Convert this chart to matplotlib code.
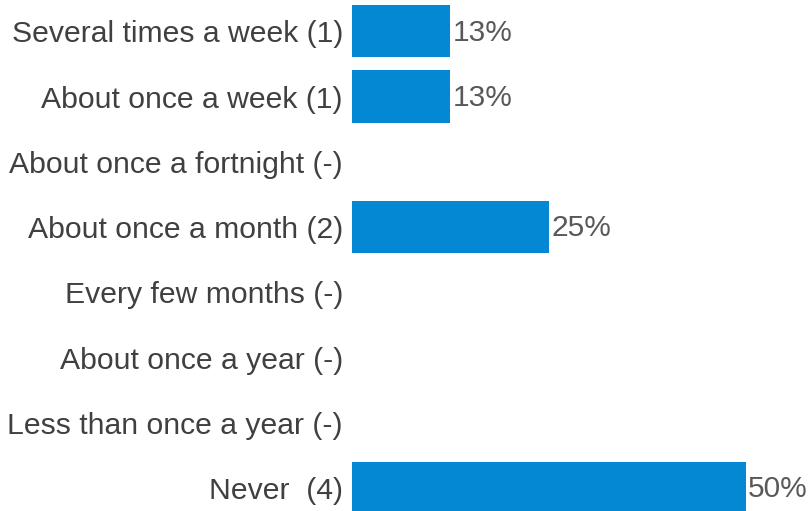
import matplotlib
matplotlib.use("Agg")
from matplotlib import pyplot as plt

categories = [
    "Several times a week (1)",
    "About once a week (1)",
    "About once a fortnight (-)",
    "About once a month (2)",
    "Every few months (-)",
    "About once a year (-)",
    "Less than once a year (-)",
    "Never  (4)",
]
shares = [12.5, 12.5, 0, 25, 0, 0, 0, 50]
share_labels = ["13%", "13%", "", "25%", "", "", "", "50%"]

plt.rcParams["font.family"] = ["Liberation Sans", "DejaVu Sans"]

fig = plt.figure(figsize=(8.12, 5.11), dpi=100)
ax = fig.add_axes([352 / 812, 0, 1 - 352 / 812, 1])

pos = list(range(len(categories)))
ax.barh(pos, shares, height=0.8, color="#0588d4")

for p, v, lab in zip(pos, shares, share_labels):
    if lab:
        ax.text(v + 0.3, p + 0.02, lab, va="center", ha="left",
                fontsize=21.5, color="#595959")

ax.set_xlim(0, 58.4)
ax.set_ylim(7.35, -0.48)
ax.set_yticks(pos)
ax.set_yticklabels(categories, fontsize=21.7, color="#404040")
ax.tick_params(axis="y", length=0, pad=6.5)
ax.set_xticks([])
for s in ax.spines.values():
    s.set_visible(False)

fig.savefig("out.png", dpi=100)
